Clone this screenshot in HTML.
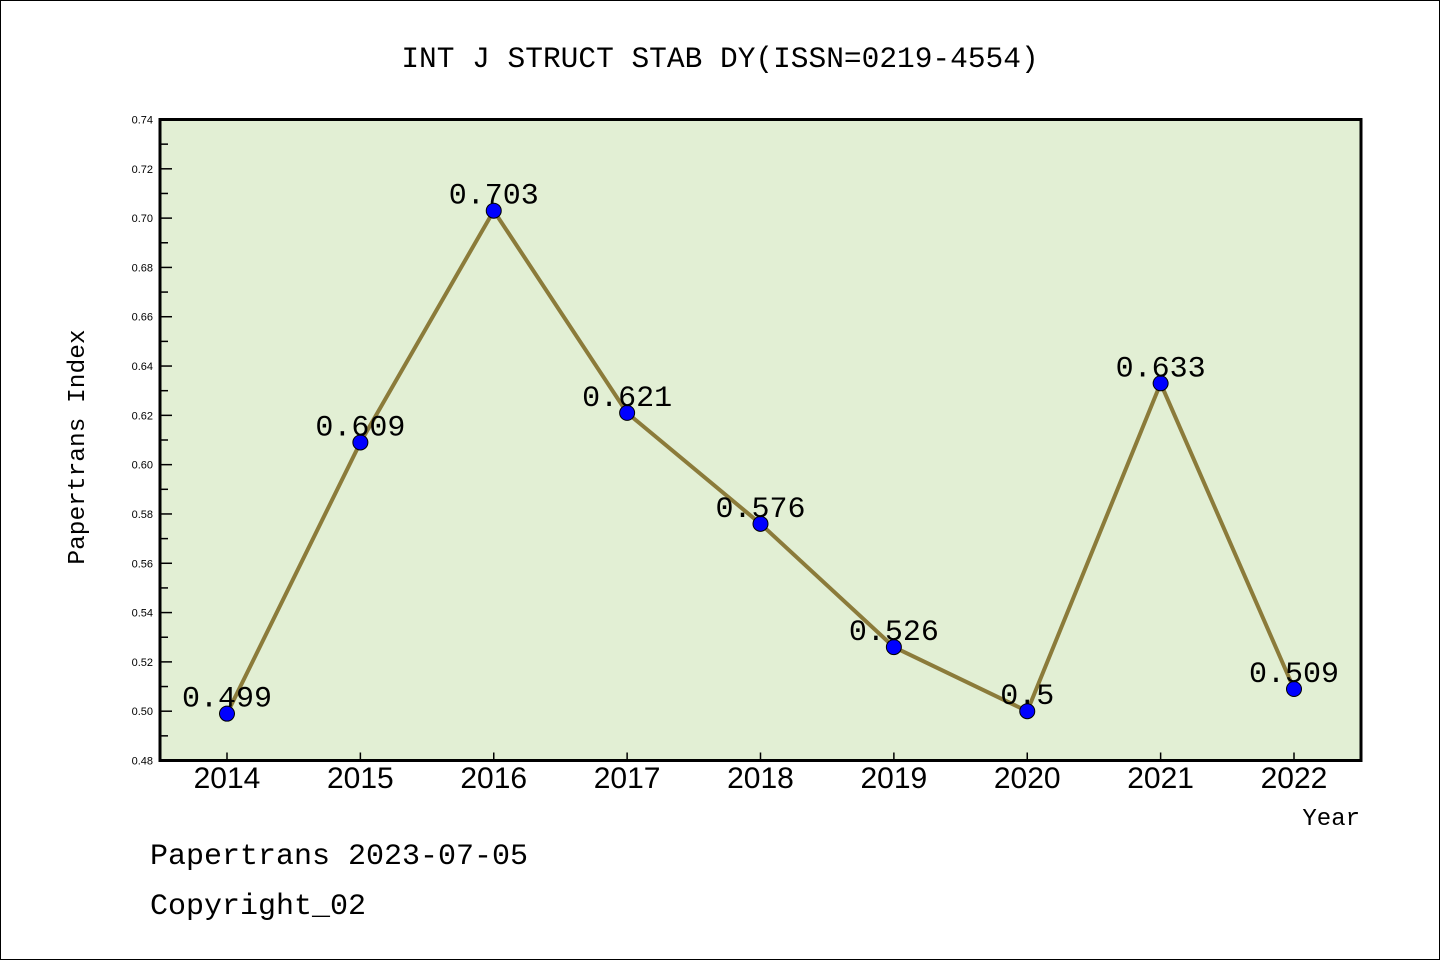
<!DOCTYPE html>
<html><head><meta charset="utf-8">
<style>
html,body{margin:0;padding:0;background:#fff;}
svg{display:block;}
</style></head>
<body>
<svg id="chart" width="1440" height="960" xmlns="http://www.w3.org/2000/svg">
<rect x="0.5" y="0.5" width="1439" height="959" fill="#fff" stroke="#000" stroke-width="1"/>
<text x="720" y="67" text-anchor="middle" font-family="Liberation Mono, monospace" font-size="29.5" fill="#000">INT J STRUCT STAB DY(ISSN=0219-4554)</text>
<rect x="160" y="119.5" width="1201" height="641" fill="#e2efd4"/>
<g id="yaxis"></g>
<g id="xaxis"></g>
<g id="series"></g>
<rect x="160" y="119.5" width="1201" height="641" fill="none" stroke="#000" stroke-width="3"/>
<text transform="translate(84,447) rotate(-90)" text-anchor="middle" font-family="Liberation Mono, monospace" font-size="24.5" fill="#000">Papertrans Index</text>
<text x="1360" y="825" text-anchor="end" font-family="Liberation Mono, monospace" font-size="24" fill="#000">Year</text>
<text x="150" y="864" font-family="Liberation Mono, monospace" font-size="30" fill="#000">Papertrans 2023-07-05</text>
<text x="150" y="914" font-family="Liberation Mono, monospace" font-size="30" fill="#000">Copyright_02</text>
</svg>
<script>
const years = ["2014","2015","2016","2017","2018","2019","2020","2021","2022"];
const values = [0.499,0.609,0.703,0.621,0.576,0.526,0.5,0.633,0.509];
const valueLabels = ["0.499","0.609","0.703","0.621","0.576","0.526","0.5","0.633","0.509"];
const yTicks = [0.48,0.50,0.52,0.54,0.56,0.58,0.60,0.62,0.64,0.66,0.68,0.70,0.72,0.74];

const NS = "http://www.w3.org/2000/svg";
const yMin = 0.48, yMax = 0.74, plotTop = 119.5, plotBottom = 760.5;
const x0 = 227, x1 = 1294;
function yScale(v){ return plotBottom - (v - yMin) / (yMax - yMin) * (plotBottom - plotTop); }
function xScale(i){ return x0 + i * (x1 - x0) / (years.length - 1); }
function mk(tag, attrs){ const e = document.createElementNS(NS, tag); for (const k in attrs) e.setAttribute(k, attrs[k]); return e; }

const ya = document.getElementById('yaxis');
yTicks.forEach((t, i) => {
  const y = yScale(t);
  const tick = mk('line', {x1:160, x2:172, y1:y, y2:y, stroke:'#000', 'stroke-width':1.5});
  
  
  ya.appendChild(tick);
  const lab = mk('text', {x:153, y:y+4, 'text-anchor':'end', 'font-family':'Liberation Sans, sans-serif', 'font-size':11, fill:'#000'});
  lab.textContent = t.toFixed(2);
  
  
  ya.appendChild(lab);
  if (i < yTicks.length - 1) {
    const ym = yScale(t + 0.01);
    const minor = mk('line', {x1:160, x2:168, y1:ym, y2:ym, stroke:'#000', 'stroke-width':1.5});
    
    
    ya.appendChild(minor);
  }
});

const xa = document.getElementById('xaxis');
years.forEach((yr, i) => {
  const x = xScale(i);
  const tick = mk('line', {x1:x, x2:x, y1:plotBottom, y2:plotBottom-8, stroke:'#000', 'stroke-width':1.5});
  
  
  xa.appendChild(tick);
  const lab = mk('text', {x:x, y:788, 'text-anchor':'middle', 'font-family':'Liberation Sans, sans-serif', 'font-size':30, fill:'#000'});
  lab.textContent = yr;
  
  
  xa.appendChild(lab);
});

const sg = document.getElementById('series');
const pts = values.map((v, i) => xScale(i) + ',' + yScale(v)).join(' ');
const line = mk('polyline', {points:pts, fill:'none', stroke:'#8b7b3a', 'stroke-width':4, 'stroke-linejoin':'round'});


sg.appendChild(line);
values.forEach((v, i) => {
  const c = mk('circle', {cx:xScale(i), cy:yScale(v), r:7.5, fill:'#0000ff', stroke:'#000', 'stroke-width':1});
  
  
  sg.appendChild(c);
  const t = mk('text', {x:xScale(i), y:yScale(v)-7, 'text-anchor':'middle', 'font-family':'Liberation Mono, monospace', 'font-size':30, fill:'#000'});
  t.textContent = valueLabels[i];
  
  
  sg.appendChild(t);
});
</script>
</body></html>
